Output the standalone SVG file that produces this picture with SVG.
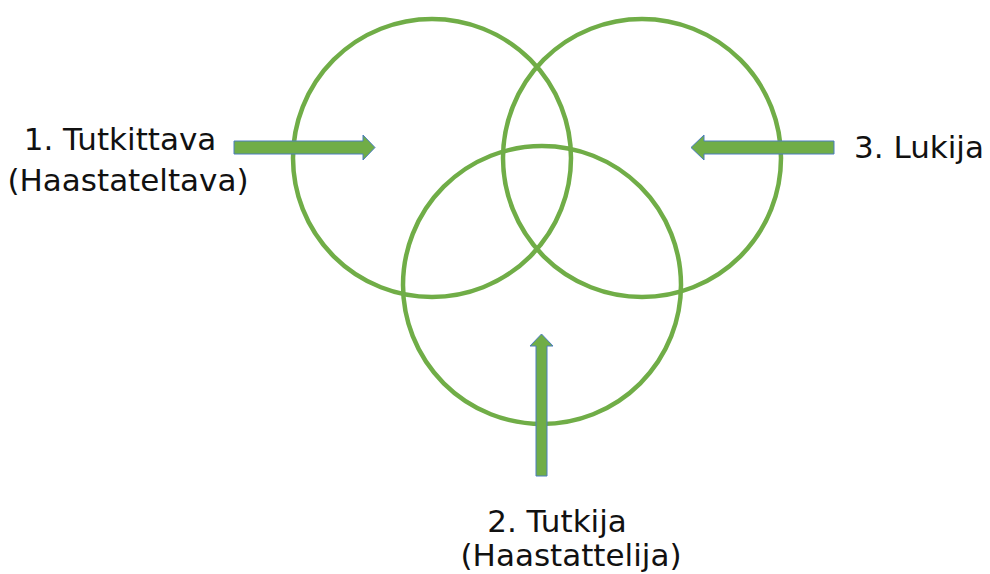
<svg xmlns="http://www.w3.org/2000/svg" width="990" height="574" viewBox="0 0 990 574">
  <style>
    .ring { fill: none; stroke: #70ad47; stroke-width: 4.5; }
    .arrow { fill: #70ad47; stroke: #4a7cc0; stroke-width: 1; }
    .label { font-family: "DejaVu Sans", sans-serif; font-size: 31px; fill: #111; text-anchor: middle; }
  </style>
  <rect width="990" height="574" fill="#ffffff"/>
  <g id="circle-tutkittava"><circle class="ring" cx="432" cy="158" r="139"/></g>
  <g id="circle-lukija"><circle class="ring" cx="642" cy="158" r="139"/></g>
  <g id="circle-tutkija"><circle class="ring" cx="542" cy="285" r="139"/></g>
  <g id="connectors">
    <polygon class="arrow" points="234,141 363,141 363,135 375,147.5 363,160 363,154 234,154"/>
    <polygon class="arrow" points="834,141 704,141 704,135 691,147.5 704,160 704,154 834,154"/>
    <polygon class="arrow" points="536,476 536,346 530,346 541.5,334 553,346 547,346 547,476"/>
  </g>
  <g id="label-tutkittava">
    <text class="label" x="120" y="150">1. Tutkittava</text>
    <text class="label" x="128" y="191">(Haastateltava)</text>
  </g>
  <g id="label-lukija">
    <text class="label" x="919" y="158">3. Lukija</text>
  </g>
  <g id="label-tutkija">
    <text class="label" x="557" y="532">2. Tutkija</text>
    <text class="label" x="571" y="566">(Haastattelija)</text>
  </g>
</svg>
